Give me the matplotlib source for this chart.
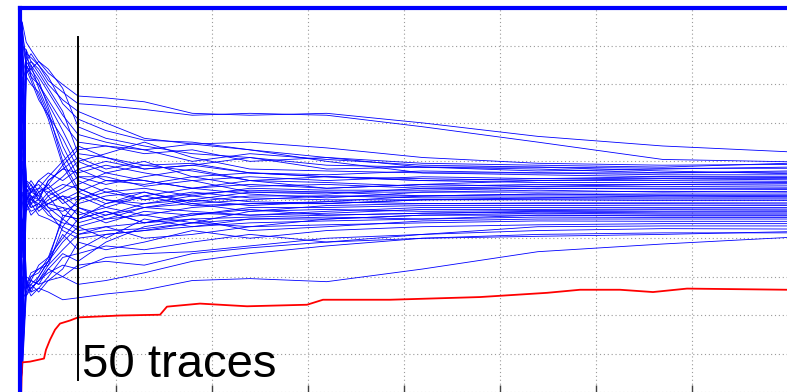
import matplotlib
matplotlib.use('Agg')
import matplotlib.pyplot as plt

# sample positions shared by all blue traces
knots_x = [0, 0.03, 0.07, 0.12, 0.2, 0.3, 0.45, 0.61, 0.9, 1.3, 1.8, 2.4, 3.2, 4.2, 5.4, 6.7, 8.0]

# traces whose first samples were high
high_traces = [
    [9.8, 9.6, 9.1, 8.9, 8.6, 8.3, 8.0, 7.7, 7.65, 7.55, 7.25, 7.2, 7.25, 7.0, 6.65, 6.4, 6.25],
    [7.2, 2.0, 8.8, 8.7, 8.5, 8.1, 7.8, 7.5, 7.45, 7.35, 7.2, 7.25, 7.2, 6.9, 6.5, 6.05, 5.99],
    [10.0, 9.0, 8.9, 8.6, 8.4, 8.0, 7.6, 7.3, 7.0, 6.6, 6.45, 6.5, 6.35, 6.1, 5.95, 5.9, 5.92],
    [8.0, 6.5, 8.6, 8.8, 8.5, 8.2, 7.5, 7.1, 6.8, 6.55, 6.5, 6.3, 6.1, 5.85, 5.75, 5.8, 5.85],
    [6.0, 4.0, 8.3, 8.4, 8.6, 8.4, 7.9, 6.9, 6.6, 6.4, 6.2, 6.1, 5.9, 5.85, 5.8, 5.7, 5.75],
    [9.5, 9.3, 8.7, 8.5, 8.2, 7.8, 7.2, 6.7, 6.5, 6.3, 6.0, 6.2, 6.05, 5.9, 5.85, 5.75, 5.68],
    [4.5, 8.0, 8.5, 8.3, 8.0, 7.6, 7.0, 6.5, 6.4, 6.3, 6.45, 6.3, 6.0, 5.7, 5.65, 5.6, 5.6],
    [9.0, 1.0, 8.4, 8.6, 8.3, 7.9, 7.3, 6.2, 6.1, 5.8, 5.9, 5.7, 5.6, 5.55, 5.5, 5.55, 5.52],
    [7.5, 7.0, 8.9, 8.2, 8.0, 7.5, 6.8, 6.0, 5.7, 5.9, 5.75, 5.5, 5.6, 5.5, 5.45, 5.45, 5.45],
    [10.0, 9.5, 8.4, 8.1, 7.6, 7.2, 6.6, 5.8, 5.5, 5.5, 5.3, 5.4, 5.3, 5.4, 5.35, 5.4, 5.38],
    [5.5, 3.5, 8.6, 8.4, 8.1, 7.4, 6.4, 5.6, 5.6, 5.35, 5.5, 5.2, 5.15, 5.3, 5.3, 5.3, 5.3],
    [8.5, 8.8, 8.2, 8.0, 7.8, 7.2, 6.2, 5.5, 5.2, 5.0, 5.15, 5.25, 5.2, 5.2, 5.25, 5.2, 5.22],
    [3.0, 5.5, 8.3, 8.5, 7.9, 7.3, 6.0, 5.3, 5.0, 4.9, 5.0, 4.85, 4.95, 5.1, 5.15, 5.15, 5.15],
    [9.2, 9.1, 8.5, 8.2, 7.7, 7.1, 5.9, 5.2, 4.9, 5.1, 4.85, 4.9, 4.9, 5.0, 5.05, 5.1, 5.08],
]

# traces whose first samples were near the middle
mid_traces = [
    [1.0, 1.5, 5.0, 5.2, 5.1, 5.4, 5.9, 6.3, 6.4, 6.2, 6.3, 6.0, 6.1, 5.95, 5.9, 5.85, 5.95],
    [9.8, 9.4, 5.1, 5.0, 5.2, 5.3, 5.6, 6.0, 6.2, 6.5, 6.1, 5.8, 5.75, 5.7, 5.7, 5.65, 5.65],
    [6.5, 6.8, 5.2, 4.9, 5.0, 5.5, 5.8, 5.7, 5.9, 5.7, 5.5, 5.6, 5.5, 5.6, 5.55, 5.6, 5.58],
    [2.5, 3.2, 4.9, 5.3, 5.4, 5.1, 5.3, 5.6, 5.4, 5.6, 5.8, 5.5, 5.3, 5.4, 5.5, 5.5, 5.48],
    [8.8, 8.6, 5.3, 5.1, 4.8, 5.0, 5.2, 5.4, 5.7, 5.5, 5.3, 5.5, 5.45, 5.35, 5.4, 5.4, 5.42],
    [0.3, 0.7, 4.8, 5.0, 5.3, 5.2, 5.0, 5.2, 5.5, 5.4, 5.6, 5.35, 5.4, 5.3, 5.35, 5.35, 5.33],
    [7.8, 7.6, 5.5, 5.4, 5.0, 4.9, 5.1, 5.0, 5.2, 5.3, 5.1, 5.3, 5.25, 5.25, 5.3, 5.28, 5.27],
    [3.8, 4.4, 5.0, 5.2, 5.5, 5.3, 4.9, 5.1, 4.8, 5.1, 5.3, 5.15, 5.05, 5.2, 5.2, 5.22, 5.2],
    [5.0, 5.8, 5.1, 4.8, 4.9, 5.2, 5.4, 5.3, 5.0, 4.8, 5.0, 5.2, 5.2, 5.1, 5.15, 5.12, 5.12],
    [9.3, 9.0, 5.3, 5.5, 5.2, 4.8, 4.7, 4.9, 5.1, 5.2, 4.9, 5.0, 5.1, 5.05, 5.05, 5.05, 5.05],
    [1.8, 2.6, 5.2, 5.1, 4.7, 4.9, 5.1, 4.8, 4.6, 4.9, 5.1, 4.95, 4.9, 5.0, 5.0, 4.98, 4.98],
    [6.8, 7.2, 4.7, 4.9, 5.2, 5.4, 5.0, 4.6, 4.8, 4.6, 4.8, 4.9, 4.95, 4.9, 4.92, 4.92, 4.92],
    [0.5, 1.1, 5.2, 5.3, 5.0, 4.7, 4.8, 4.7, 4.4, 4.7, 4.6, 4.8, 4.8, 4.85, 4.85, 4.86, 4.85],
    [8.0, 8.2, 4.9, 4.7, 4.8, 5.1, 4.6, 4.5, 4.7, 4.4, 4.65, 4.6, 4.7, 4.8, 4.8, 4.8, 4.8],
    [4.2, 4.9, 5.3, 5.0, 4.9, 4.6, 4.4, 4.3, 4.5, 4.6, 4.4, 4.7, 4.75, 4.7, 4.72, 4.74, 4.73],
    [9.6, 9.6, 5.2, 5.4, 5.1, 4.8, 4.5, 4.2, 4.3, 4.4, 4.5, 4.55, 4.6, 4.65, 4.68, 4.66, 4.66],
    [2.2, 2.2, 5.1, 4.9, 4.6, 4.5, 4.3, 4.1, 4.2, 4.25, 4.4, 4.5, 4.5, 4.6, 4.6, 4.6, 4.6],
    [7.0, 6.2, 5.0, 4.8, 4.9, 4.7, 4.2, 4.0, 4.1, 4.2, 4.3, 4.4, 4.45, 4.5, 4.55, 4.54, 4.54],
    [3.3, 3.7, 5.5, 5.2, 5.3, 5.6, 6.0, 6.4, 6.1, 5.9, 5.95, 5.7, 5.65, 5.75, 5.7, 5.7, 5.72],
    [6.2, 7.9, 4.8, 5.1, 5.0, 5.5, 5.8, 6.1, 5.8, 6.0, 5.6, 5.7, 5.6, 5.5, 5.55, 5.55, 5.55],
    [8.5, 8.9, 5.4, 5.2, 5.5, 5.7, 5.5, 5.8, 6.0, 5.8, 5.9, 6.1, 5.8, 5.85, 5.85, 5.82, 5.82],
    [1.5, 1.8, 4.9, 4.6, 4.8, 4.9, 4.8, 4.4, 4.6, 4.8, 4.7, 4.6, 4.65, 4.75, 4.75, 4.76, 4.76],
]

# traces whose first samples were low
low_traces = [
    [0.2, 0.6, 2.8, 2.5, 2.7, 2.6, 2.4, 2.45, 2.55, 2.65, 2.9, 2.95, 2.87, 3.2, 3.65, 3.85, 4.02],
    [3.5, 4.5, 2.7, 2.9, 2.8, 2.9, 3.0, 2.8, 2.9, 3.1, 3.4, 3.6, 3.8, 4.0, 4.05, 4.1, 4.17],
    [0.0, 0.9, 2.6, 2.7, 2.9, 3.1, 3.3, 3.2, 3.5, 3.6, 3.65, 3.8, 4.0, 4.1, 4.2, 4.25, 4.24],
    [6.0, 6.0, 2.9, 2.6, 2.7, 3.0, 3.5, 3.6, 3.8, 3.7, 3.9, 4.1, 3.9, 4.1, 4.3, 4.32, 4.32],
    [1.2, 1.6, 2.7, 2.8, 2.6, 2.9, 3.2, 3.9, 3.7, 3.9, 4.2, 4.0, 4.2, 4.3, 4.35, 4.38, 4.38],
    [4.8, 5.2, 2.8, 2.7, 2.9, 3.3, 3.7, 4.1, 4.3, 4.0, 4.1, 4.3, 4.35, 4.4, 4.45, 4.44, 4.44],
    [0.6, 0.8, 3.0, 2.9, 2.8, 3.2, 3.6, 3.4, 3.9, 4.3, 4.5, 4.2, 4.3, 4.45, 4.5, 4.5, 4.5],
    [2.8, 3.0, 2.5, 2.8, 3.0, 3.4, 3.9, 4.3, 4.0, 4.5, 4.3, 4.5, 4.55, 4.5, 4.6, 4.58, 4.58],
    [7.5, 7.4, 2.7, 3.0, 3.1, 3.5, 4.0, 4.5, 4.7, 4.4, 4.6, 4.75, 4.6, 4.65, 4.7, 4.7, 4.7],
    [0.9, 1.3, 2.9, 2.6, 3.0, 3.4, 4.1, 3.7, 4.1, 4.2, 4.4, 4.3, 4.5, 4.6, 4.65, 4.63, 4.63],
    [4.0, 4.1, 2.8, 3.1, 3.2, 3.3, 4.3, 4.8, 4.5, 4.8, 4.9, 4.7, 4.85, 4.9, 4.9, 4.9, 4.89],
    [2.0, 2.4, 2.6, 2.9, 3.3, 3.5, 4.5, 5.0, 5.3, 5.0, 5.2, 5.05, 5.0, 5.0, 5.02, 5.02, 5.02],
    [5.3, 6.6, 2.8, 3.0, 3.2, 3.4, 4.6, 4.5, 4.9, 5.2, 4.95, 5.1, 5.1, 5.1, 5.1, 5.1, 5.1],
    [0.1, 0.5, 2.5, 2.7, 2.9, 3.2, 3.0, 3.3, 3.4, 3.3, 3.6, 3.75, 3.9, 4.0, 4.1, 4.14, 4.14],
]

# the highlighted trace
red_x = [0.016, 0.026, 0.109, 0.255, 0.276, 0.318, 0.37, 0.422, 0.526, 0.609, 1.047, 1.464,
         1.536, 1.88, 2.37, 2.995, 3.161, 3.859, 4.797, 5.495, 5.839, 6.255, 6.599, 6.953, 7.995]
red_y = [-0.2, 0.77, 0.79, 0.87, 1.1, 1.36, 1.62, 1.78, 1.86, 1.94, 1.99, 2.01,
         2.22, 2.3, 2.23, 2.27, 2.4, 2.4, 2.47, 2.58, 2.66, 2.66, 2.6, 2.69, 2.66]

marker_x = 0.609
marker_y = (0.31, 9.24)
label = "50 traces"

# short dark mark hidden behind the traces at the left edge
edge_mark_x = 0.015
edge_mark_y = (5.85, 7.8)

fig = plt.figure(figsize=(7.87, 3.92), dpi=100)
ax = fig.add_axes([19.5 / 787, 0.0, 768 / 787, 384.4 / 392])

ax.plot([edge_mark_x, edge_mark_x], edge_mark_y, color='black', lw=1.0)

for tr in high_traces + mid_traces + low_traces:
    ax.plot(knots_x, tr, color=(0, 0, 1), lw=0.6)

ax.plot(red_x, red_y, color='red', lw=1.3)
ax.plot([marker_x, marker_x], marker_y, color='black', lw=1.4)
ax.text(marker_x + 0.045, 0.39, label, fontsize=34, family='Liberation Sans',
        ha='left', va='baseline')

ax.set_xlim(0, 8)
ax.set_ylim(0, 10)
ax.set_xticks(range(0, 9))
ax.set_yticks(range(0, 11))
ax.tick_params(labelbottom=False, labelleft=False, left=False,
               direction='in', length=5, width=1, color='#404040')
ax.grid(True, linestyle=(0, (1, 2.5)), linewidth=0.8, color='#9a9a9a')
ax.set_axisbelow(True)

for side in ['left', 'top']:
    ax.spines[side].set_color((0, 0, 1))
    ax.spines[side].set_linewidth(3)
for side in ['right', 'bottom']:
    ax.spines[side].set_visible(False)

fig.savefig('out.png', dpi=100)
